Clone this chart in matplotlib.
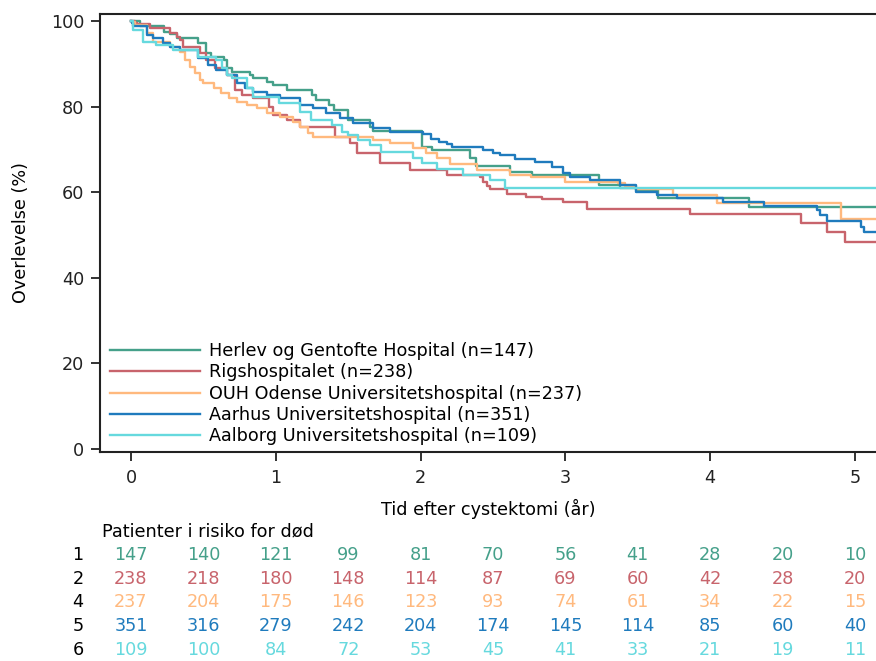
import matplotlib
matplotlib.use("Agg")
import matplotlib.pyplot as plt
from matplotlib.transforms import blended_transform_factory

plt.rcParams['font.family'] = ['DejaVu Sans']

names = ["Herlev og Gentofte Hospital (n=147)", "Rigshospitalet (n=238)",
         "OUH Odense Universitetshospital (n=237)", "Aarhus Universitetshospital (n=351)",
         "Aalborg Universitetshospital (n=109)"]
colors = ["#45a08a", "#c8646c", "#ffb97e", "#1f7bbd", "#66d9de"]
row_labels = ["1", "2", "4", "5", "6"]

herlev_t = [0, 0.06, 0.23, 0.27, 0.32, 0.46, 0.52, 0.55, 0.64, 0.66, 0.70, 0.82, 0.84, 0.94, 0.98,
            1.08, 1.25, 1.28, 1.37, 1.40, 1.50, 1.65, 1.67, 2.01, 2.08, 2.34, 2.38, 2.62, 2.77,
            3.23, 3.38, 3.49, 3.64, 4.27, 5.2]
herlev_s = [100, 98.8, 97.5, 97.0, 96.0, 94.9, 92.5, 91.6, 90.9, 89.0, 88.1, 87.4, 86.7, 85.7, 85.0,
            83.9, 82.7, 81.5, 80.4, 79.2, 76.9, 75.2, 74.3, 70.6, 69.9, 68.0, 66.1, 64.8, 64.0,
            61.7, 61.0, 60.5, 58.6, 56.5, 56.5]

rigs_t = [0, 0.03, 0.04, 0.13, 0.27, 0.32, 0.34, 0.36, 0.48, 0.52, 0.58, 0.66, 0.72, 0.77, 0.84,
          0.95, 0.98, 1.08, 1.17, 1.41, 1.51, 1.56, 1.72, 1.93, 2.18, 2.41, 2.43, 2.46, 2.48,
          2.60, 2.73, 2.84, 2.98, 3.15, 3.86, 4.63, 4.81, 4.93, 5.2]
rigs_s = [100, 99.6, 99.3, 98.4, 97.2, 96.3, 95.6, 93.9, 92.5, 90.9, 89.0, 87.4, 83.9, 82.7, 82.0,
          79.9, 78.0, 76.9, 75.2, 72.9, 71.5, 69.2, 66.8, 65.2, 64.0, 63.6, 62.4, 61.4, 60.7,
          59.6, 58.9, 58.4, 57.7, 56.1, 54.9, 52.9, 50.6, 48.3, 48.3]

ouh_t = [0, 0.01, 0.03, 0.11, 0.15, 0.27, 0.34, 0.37, 0.41, 0.44, 0.48, 0.50, 0.57, 0.62, 0.68,
         0.73, 0.80, 0.87, 0.94, 1.03, 1.12, 1.17, 1.22, 1.26, 1.67, 1.79, 1.95, 2.04, 2.11,
         2.20, 2.39, 2.62, 2.76, 3.00, 3.36, 3.41, 3.49, 3.74, 4.05, 4.90, 5.2]
ouh_s = [100, 99.8, 99.1, 97.2, 95.1, 93.9, 92.8, 90.9, 89.3, 87.9, 86.2, 85.5, 84.3, 83.2, 82.0,
         81.1, 80.4, 79.7, 78.5, 77.6, 76.4, 75.2, 73.8, 72.9, 72.2, 71.5, 70.3, 69.2, 68.0,
         66.7, 65.2, 64.0, 63.5, 62.5, 62.1, 61.5, 60.7, 59.3, 57.5, 53.8, 53.8]

aarhus_t = [0, 0.007, 0.014, 0.11, 0.15, 0.22, 0.27, 0.34, 0.46, 0.53, 0.59, 0.66, 0.73, 0.79,
            0.84, 0.94, 1.03, 1.17, 1.26, 1.35, 1.44, 1.53, 1.67, 1.79, 2.02, 2.07, 2.13, 2.18,
            2.22, 2.43, 2.50, 2.55, 2.65, 2.79, 2.91, 2.98, 3.03, 3.17, 3.38, 3.49, 3.63, 3.77,
            4.09, 4.37, 4.74, 4.76, 4.81, 5.04, 5.06, 5.2]
aarhus_s = [100, 99.6, 98.8, 96.7, 96.0, 94.9, 93.9, 93.2, 91.4, 89.7, 88.6, 87.4, 85.5, 84.3,
            83.4, 82.7, 82.0, 80.4, 79.7, 78.5, 77.3, 76.2, 75.0, 74.1, 73.5, 72.5, 71.8, 71.2,
            70.6, 69.9, 69.2, 68.6, 67.8, 67.1, 66.0, 64.5, 63.6, 62.9, 61.7, 60.1, 59.3, 58.6,
            57.8, 56.8, 55.8, 54.7, 53.3, 51.9, 50.6, 50.6]

aalborg_t = [0, 0.014, 0.08, 0.17, 0.29, 0.46, 0.59, 0.63, 0.66, 0.70, 0.80, 0.84, 1.02, 1.17,
             1.24, 1.39, 1.46, 1.50, 1.57, 1.65, 1.73, 1.95, 2.01, 2.11, 2.29, 2.48, 2.58, 5.2]
aalborg_s = [100, 97.9, 95.1, 94.4, 93.2, 91.6, 90.9, 89.0, 87.4, 86.7, 84.3, 82.2, 80.8, 78.7,
             76.9, 75.7, 74.1, 73.4, 72.2, 71.0, 69.5, 68.0, 66.8, 65.4, 64.0, 62.9, 61.0, 61.0]

risk_times = [0, 0.5, 1, 1.5, 2, 2.5, 3, 3.5, 4, 4.5, 5]
risk_herlev = [147, 140, 121, 99, 81, 70, 56, 41, 28, 20, 10]
risk_rigs = [238, 218, 180, 148, 114, 87, 69, 60, 42, 28, 20]
risk_ouh = [237, 204, 175, 146, 123, 93, 74, 61, 34, 22, 15]
risk_aarhus = [351, 316, 279, 242, 204, 174, 145, 114, 85, 60, 40]
risk_aalborg = [109, 100, 84, 72, 53, 45, 41, 33, 21, 19, 11]

series = [(herlev_t, herlev_s), (rigs_t, rigs_s), (ouh_t, ouh_s),
          (aarhus_t, aarhus_s), (aalborg_t, aalborg_s)]
risks = [risk_herlev, risk_rigs, risk_ouh, risk_aarhus, risk_aalborg]

FS = 12.7
W, H = 876, 661
fig = plt.figure(figsize=(W / 100, H / 100), dpi=100)
ax = fig.add_axes([100 / W, 1 - 452 / H, 776 / W, 438 / H])

for (t, s), c, n in zip(series, colors, names):
    ax.step(t, s, where='post', color=c, lw=1.7, label=n)

ax.set_xlim(-0.214, 5.145)
ax.set_ylim(-0.7, 101.64)
ax.set_xticks([0, 1, 2, 3, 4, 5])
ax.set_yticks([0, 20, 40, 60, 80, 100])
ax.tick_params(axis='both', direction='out', length=6.5, width=1.3, labelsize=FS, pad=5, colors='#222222')
ax.tick_params(axis='x', pad=6)
ax.spines['right'].set_visible(False)
for sp in ['left', 'top', 'bottom']:
    ax.spines[sp].set_linewidth(1.5)
    ax.spines[sp].set_color('#222222')
ax.set_ylabel("Overlevelse (%)", fontsize=FS, labelpad=15)
ax.set_xlabel("Tid efter cystektomi (år)", fontsize=FS, labelpad=8)

leg = ax.legend(loc='upper left', bbox_to_anchor=(110 / W, 1 - 342 / H),
                bbox_transform=fig.transFigure, frameon=False, fontsize=FS,
                handlelength=5.1, handletextpad=0.5, labelspacing=0.19, borderpad=0,
                borderaxespad=0)
for line in leg.get_lines():
    line.set_linewidth(1.7)

trans = blended_transform_factory(ax.transData, fig.transFigure)
fig.text(102 / W, 1 - 531 / H, "Patienter i risiko for død", fontsize=FS, va='center', ha='left')
row_y = [555, 579, 602, 626, 650]
for lab, r, c, yy in zip(row_labels, risks, colors, row_y):
    fig.text(78 / W, 1 - yy / H, lab, fontsize=FS, ha='center', va='center')
    for tt, v in zip(risk_times, r):
        ax.text(tt, 1 - yy / H, str(v), transform=trans, fontsize=FS, ha='center', va='center',
                color=c, clip_on=False)

fig.savefig("out.png", dpi=100)
